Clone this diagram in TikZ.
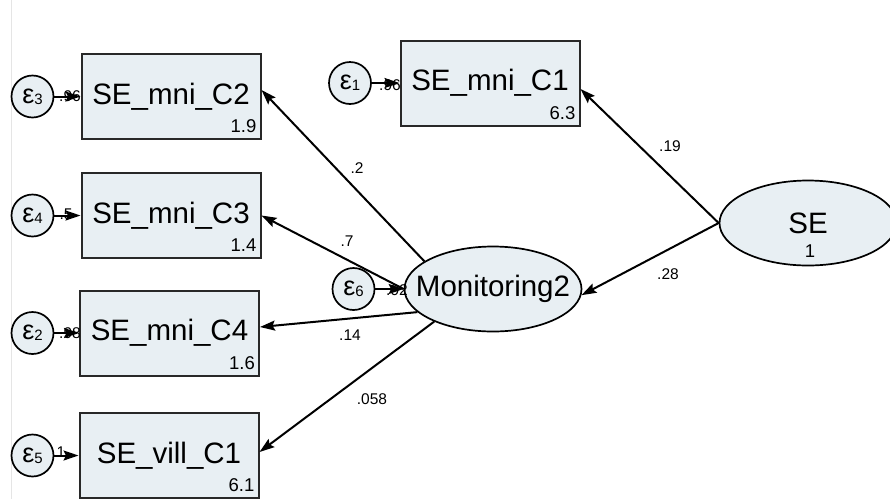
\documentclass[tikz,border=0pt]{standalone}
\usepackage{fontspec}
\setmainfont{Liberation Sans}
\usetikzlibrary{shapes.geometric,arrows.meta}
\definecolor{semfill}{RGB}{232,239,243}
\definecolor{semline}{RGB}{40,40,40}
\newcommand{\bigtxt}{\fontsize{29.5}{30}\selectfont}
\newcommand{\vartxt}{\fontsize{18.5}{19}\selectfont}
\newcommand{\pathtxt}{\fontsize{15.5}{16}\selectfont}
\newcommand{\epslab}[1]{{\fontsize{27}{27}\selectfont ε}{\fontsize{15}{15}\selectfont\raisebox{-1pt}{#1}}}
\begin{document}
\begin{tikzpicture}[x=1pt,y=-1pt,
  obsbox/.style={draw=semline, line width=2pt, fill=semfill, minimum width=179pt, minimum height=85pt, inner sep=0pt, font=\bigtxt},
  latent/.style={ellipse, draw=black, line width=1.7pt, fill=semfill, minimum width=177pt, minimum height=85pt, inner sep=0pt},
  errc/.style={circle, draw=black, line width=1.7pt, fill=semfill, minimum size=42pt, inner sep=0pt},
  conn/.style={line width=2pt, -{Stealth[length=15pt,width=10pt,inset=2.5pt]}},
  plab/.style={font=\pathtxt, inner sep=0pt},
  vlab/.style={font=\vartxt, inner sep=0pt, anchor=south east}
]
\useasboundingbox (0,0) rectangle (890,499);
\draw[black!10, line width=0.8pt] (11.5,0) -- (11.5,499);

% observed boxes
\node[obsbox] (C2) at (171,96.5) {SE\_mni\_C2};
\node[obsbox] (C3) at (171,215.5) {SE\_mni\_C3};
\node[obsbox] (C4) at (169.5,333) {SE\_mni\_C4};
\node[obsbox] (V1) at (169,455.5) {SE\_vill\_C1};
\node[obsbox] (C1) at (490,83) {SE\_mni\_C1};

\node[vlab] (v2) at ([xshift=-5pt,yshift=7pt]C2.south east) {1.9};
\node[vlab] (v3) at ([xshift=-5pt,yshift=7pt]C3.south east) {1.4};
\node[vlab] (v4) at ([xshift=-5pt,yshift=7pt]C4.south east) {1.6};
\node[vlab] (vv) at ([xshift=-5pt,yshift=7pt]V1.south east) {6.1};
\node[vlab] (v1) at ([xshift=-5pt,yshift=7pt]C1.south east) {6.3};

% latent variables
\node[latent] (M) at (493,289) {};
\node[font=\bigtxt] (Mt) at (M.center) {Monitoring2};
\node[latent] (SE) at (808,223) {};
\node[font=\bigtxt] (SEt) at (808,223) {SE};
\node[font=\vartxt] (SEv) at (810,251.5) {1};

% error terms
\node[errc] (e3) at (32.5,96.5) {\epslab{3}};
\node[errc] (e4) at (32.5,215.5) {\epslab{4}};
\node[errc] (e2) at (32.5,333) {\epslab{2}};
\node[errc] (e5) at (32.5,455.5) {\epslab{5}};
\node[errc] (e1) at (350,83) {\epslab{1}};
\node[errc] (e6) at (353.5,289) {\epslab{6}};

% structural paths
\draw[conn] (M.158.6) -- ([yshift=6.5pt]C2.east);
\draw[conn] (M.west) -- (C3.east);
\draw[conn] (M.-163.2) -- ([yshift=6pt]C4.east);
\draw[conn] (M.-151.6) -- ([yshift=3.5pt]V1.east);
\draw[conn] (SE.west) -- ([yshift=-6pt]C1.east);
\draw[conn] (SE.west) -- (M.-4.5);

% error paths
\draw[conn] (e3) -- (C2);
\draw[conn] (e4) -- (C3);
\draw[conn] (e2) -- (C4);
\draw[conn] (e5) -- (V1);
\draw[conn] (e1) -- (C1);
\draw[conn] (e6) -- (M);

% error labels
\node[plab] (l3) at (70,96) {.96};
\node[plab] (l4) at (66,214) {.5};
\node[plab] (l2) at (70,333) {.98};
\node[plab] (l5) at (61,452) {1};
\node[plab] (l1) at (390,85) {.96};
\node[plab] (l6) at (397,290) {.92};

% path coefficients
\node[plab] (p2) at (357,168) {.2};
\node[plab] (p3) at (347,241) {.7};
\node[plab] (p4) at (350,335) {.14};
\node[plab] (pv) at (372,399) {.058};
\node[plab] (p1) at (670,146) {.19};
\node[plab] (pm) at (668,274) {.28};
\end{tikzpicture}
\end{document}
